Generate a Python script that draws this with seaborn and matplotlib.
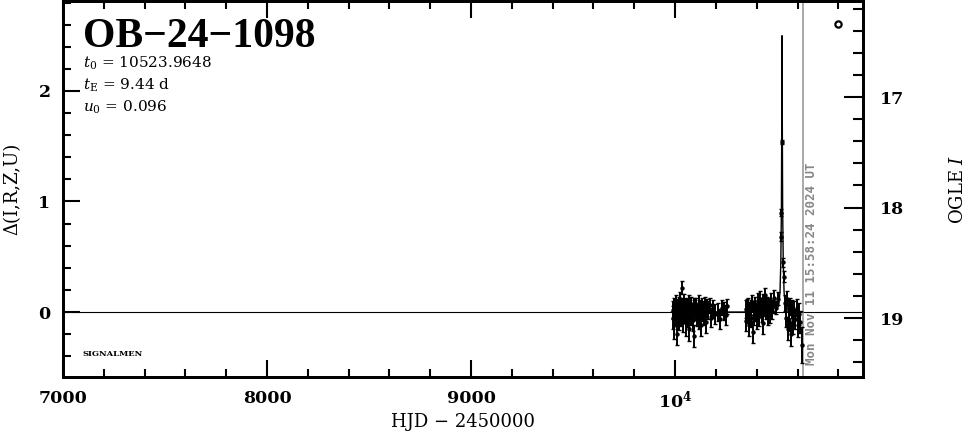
import matplotlib
matplotlib.use('Agg')
import matplotlib.pyplot as plt
import seaborn as sns
import pandas as pd
from matplotlib.ticker import MultipleLocator, FixedLocator

# OGLE photometry, 2023 season (HJD - 2450000, delta mag, error)
hjd_2023 = [9988, 9992, 9995, 9997, 10001, 10004, 10006, 10009, 10012, 10015,
            10018, 10021, 10024, 10027, 10029, 10032, 10036, 10039, 10042, 10045,
            10048, 10051, 10055, 10058, 10061, 10064, 10067, 10070, 10073, 10077,
            10080, 10084, 10088, 10092, 10095, 10099, 10103, 10107, 10111, 10115,
            10118, 10122, 10127, 10131, 10136, 10141, 10146, 10151, 10157, 10163,
            10170, 10178, 10186, 10195, 10210, 10222, 10232, 10240, 10248, 10255]
dmag_2023 = [0.02, -0.05, 0.06, -0.12, 0.01, -0.03, 0.08, -0.20, 0.04, -0.01,
             0.07, -0.06, 0.10, 0.03, -0.04, 0.22, 0.05, -0.08, 0.02, 0.09,
             -0.02, 0.06, -0.10, 0.01, 0.04, -0.05, 0.08, -0.15, 0.03, 0.07,
             -0.03, 0.00, -0.07, 0.05, -0.22, 0.02, 0.06, -0.04, -0.01, 0.08,
             -0.06, 0.03, -0.12, 0.05, 0.01, -0.03, 0.07, -0.09, 0.04, 0.02,
             0.06, -0.05, 0.03, -0.02, 0.00, -0.06, 0.04, 0.01, -0.03, 0.05]
err_2023 = [0.08, 0.10, 0.07, 0.12, 0.08, 0.09, 0.07, 0.10, 0.08, 0.09,
            0.07, 0.10, 0.08, 0.07, 0.09, 0.06, 0.08, 0.10, 0.09, 0.07,
            0.08, 0.07, 0.12, 0.09, 0.08, 0.09, 0.07, 0.11, 0.08, 0.07,
            0.09, 0.08, 0.10, 0.08, 0.10, 0.09, 0.07, 0.09, 0.08, 0.07,
            0.09, 0.08, 0.10, 0.08, 0.09, 0.09, 0.07, 0.10, 0.08, 0.08,
            0.07, 0.09, 0.08, 0.09, 0.08, 0.09, 0.07, 0.08, 0.09, 0.07]

# 2024 season
hjd_2024 = [10345, 10349, 10352, 10356, 10359, 10363, 10366, 10370, 10374, 10377,
            10381, 10385, 10388, 10392, 10396, 10400, 10404, 10408, 10412, 10416,
            10420, 10424, 10429, 10433, 10438, 10442, 10447, 10452, 10457, 10462,
            10467, 10472, 10477, 10482, 10487, 10492,
            10505, 10518, 10520, 10522, 10527, 10534,
            10540, 10544, 10548, 10552, 10556, 10560, 10565, 10570, 10575, 10580,
            10585, 10590, 10596, 10602, 10608, 10614, 10620]
dmag_2024 = [0.03, -0.08, 0.05, -0.02, 0.06, -0.12, 0.01, 0.04, -0.05, 0.08,
             -0.18, 0.02, -0.03, 0.07, 0.00, -0.06, 0.10, 0.03, -0.04, 0.12,
             0.05, -0.01, 0.09, -0.10, 0.04, 0.15, 0.02, 0.07, -0.03, 0.06,
             -0.02, 0.10, 0.01, 0.05, 0.13, 0.04,
             0.12, 0.68, 0.90, 1.54, 0.45, 0.32,
             0.08, -0.05, 0.12, -0.15, 0.02, -0.08, 0.05, -0.20, 0.03, -0.10,
             0.01, -0.06, 0.04, -0.12, -0.02, -0.09, -0.30]
err_2024 = [0.08, 0.09, 0.07, 0.08, 0.07, 0.10, 0.08, 0.07, 0.09, 0.07,
            0.10, 0.08, 0.09, 0.07, 0.08, 0.09, 0.07, 0.08, 0.09, 0.07,
            0.08, 0.08, 0.07, 0.10, 0.08, 0.07, 0.08, 0.07, 0.09, 0.07,
            0.08, 0.07, 0.07, 0.06, 0.07, 0.06,
            0.06, 0.04, 0.03, 0.02, 0.04, 0.05,
            0.07, 0.09, 0.07, 0.10, 0.08, 0.09, 0.08, 0.11, 0.08, 0.10,
            0.09, 0.09, 0.08, 0.11, 0.10, 0.10, 0.16]

# model curve
model_hjd = [9980, 10490, 10508, 10514, 10518, 10521, 10523, 10524,
             10525, 10527, 10530, 10534, 10540, 10560, 10627]
model_dmag = [0.0, 0.0, 0.06, 0.18, 0.45, 0.95, 1.9, 2.5,
              1.9, 0.95, 0.45, 0.18, 0.06, 0.01, 0.0]

title = 'OB\u221224\u22121098'
params = [r'$t_0$ = 10523.9648', r'$t_{\rm E}$ = 9.44 d', r'$u_0$ = 0.096']
now_hjd = 10626.7
now_text = 'Mon Nov 11 15:58:24 2024 UT'
ogle_base = 18.945

sns.set_style('ticks')
plt.rcParams['font.family'] = ['DejaVu Serif']
plt.rcParams['mathtext.fontset'] = 'dejavuserif'
plt.rcParams.update({'text.color': 'black', 'axes.labelcolor': 'black',
                     'xtick.color': 'black', 'ytick.color': 'black',
                     'axes.edgecolor': 'black'})

fig = plt.figure(figsize=(9.66, 4.34), dpi=100)
ax = fig.add_axes([0.0652, 0.1313, 0.828, 0.8667])

obs = pd.DataFrame({'hjd': hjd_2023 + hjd_2024,
                    'dmag': dmag_2023 + dmag_2024,
                    'err': err_2023 + err_2024})
model = pd.DataFrame({'hjd': model_hjd, 'dmag': model_dmag})

ax.axhline(0, color='black', lw=0.8)
ax.axvline(now_hjd, color='#999999', lw=1.2)
sns.lineplot(data=model, x='hjd', y='dmag', sort=False, estimator=None,
             color='black', lw=1.0, ax=ax)
ax.errorbar(obs.hjd, obs.dmag, yerr=obs.err, fmt='o', ms=2.2, color='black',
            elinewidth=1.4, capsize=1.2, capthick=1.0)

ax.set_xlim(7000, 10920)
ax.set_ylim(-0.588, 2.815)
ax.xaxis.set_major_locator(FixedLocator([7000, 8000, 9000, 10000]))
ax.set_xticklabels(['7000', '8000', '9000', r'$\mathbf{10^4}$'])
ax.xaxis.set_minor_locator(MultipleLocator(200))
ax.yaxis.set_major_locator(MultipleLocator(1))
ax.yaxis.set_minor_locator(MultipleLocator(0.2))
ax.tick_params(which='both', direction='in', top=True, right=False, width=1.5)
ax.tick_params(which='major', length=12, labelsize=12.5, pad=9)
ax.tick_params(which='minor', length=6)
for lab in ax.get_xticklabels() + ax.get_yticklabels():
    lab.set_fontweight('bold')
for s in ax.spines.values():
    s.set_linewidth(2)
ax.set_xlabel('HJD \u2212 2450000', fontsize=13, labelpad=1)
ax.set_ylabel('\u0394(I,R,Z,U)', fontsize=13, labelpad=12)

ax2 = ax.twinx()
ax2.set_ylim(ogle_base + 0.588, ogle_base - 2.815)
ax2.yaxis.set_major_locator(MultipleLocator(1))
ax2.yaxis.set_minor_locator(MultipleLocator(0.2))
ax2.tick_params(which='both', direction='in', width=1.5)
ax2.tick_params(which='major', length=14, labelsize=12.5, pad=12)
ax2.tick_params(which='minor', length=7)
for lab in ax2.get_yticklabels():
    lab.set_fontweight('bold')
for s in ax2.spines.values():
    s.set_linewidth(2)
ax.text(1.119, 0.5, r'OGLE $I$', transform=ax.transAxes, rotation=90,
        fontsize=13, ha='center', va='center')

ax.text(0.025, 0.955, title, transform=ax.transAxes, fontsize=30,
        fontweight='bold', family='Liberation Serif', va='top', ha='left')
for i, p in enumerate(params):
    ax.text(0.025, 0.835 - i * 0.059, p, transform=ax.transAxes,
            fontsize=11, va='center', ha='left')
ax.text(0.025, 0.062, 'SIGNALMEN', transform=ax.transAxes, fontsize=6,
        fontweight='bold', va='center', ha='left')
ax.text(0.936, 0.032, now_text, transform=ax.transAxes, rotation=90,
        fontsize=9, fontweight='bold', family='DejaVu Sans Mono',
        color='#888888', ha='center', va='bottom')
ax.plot([0.969], [0.939], 'o', transform=ax.transAxes, ms=4.5, mfc='none',
        mec='black', mew=1.6)

fig.savefig('out.png', dpi=100)
